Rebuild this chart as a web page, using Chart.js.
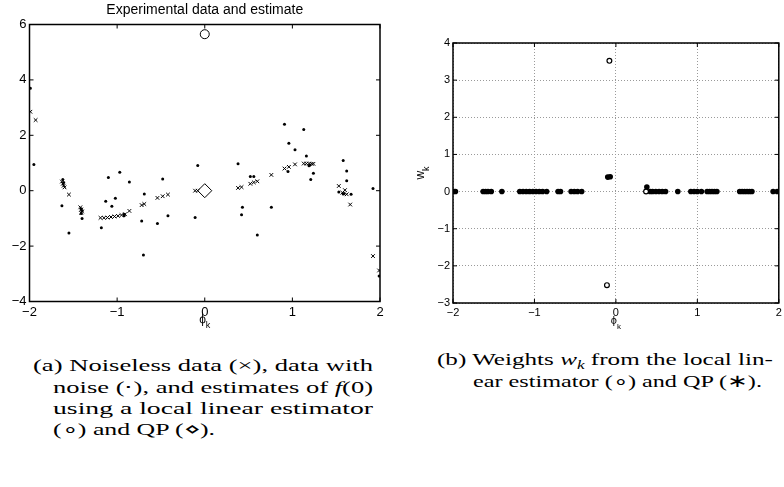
<!DOCTYPE html>
<html>
<head>
<meta charset="utf-8">
<script src="https://cdn.jsdelivr.net/npm/chart.js@4.4.0/dist/chart.umd.min.js"></script>
<style>
  body { margin: 0; background: #fff; width: 784px; height: 487px; position: relative; overflow: hidden; }
  canvas { position: absolute; top: 0; }
  #left { left: 0; }
  #right { left: 392px; }
  .ln { position: absolute; white-space: nowrap; font-family: "Liberation Serif", serif; font-size: 17.5px;
        line-height: 20px; height: 20px; color: #000; transform-origin: 0 0; }
  .sb { position: relative; top: 4px; font-size: 12px; font-style: italic; }
</style>
</head>
<body>
<canvas id="left" width="392" height="330"></canvas>
<canvas id="right" width="392" height="330"></canvas>

<div class="ln" data-w="340" style="left:33px; top:355px">(a) Noiseless data (×), data with</div>
<div class="ln" data-w="320" style="left:53px; top:377px">noise (⋅), and estimates of <i>f</i>(0)</div>
<div class="ln" data-w="320" style="left:53px; top:398px">using a local linear estimator</div>
<div class="ln" data-w="162" style="left:53px; top:419px">(∘) and QP (⋄).</div>
<div class="ln" data-w="336" style="left:437px; top:349px; outline: 0">(b) Weights <i>w</i><span class="sb">k</span> from the local lin-</div>
<div class="ln" data-w="289" style="left:473px; top:371px">ear estimator (∘) and QP (∗).</div>

<script>
// (a) noiseless data (x markers)
const phiClean = [-1.99, -1.93, -1.63, -1.62, -1.61, -1.60, -1.55, -1.42, -1.41, -1.40, -1.41,
  -1.19, -1.15, -1.11, -1.07, -1.03, -0.99, -0.95, -0.91, -0.86, -0.72, -0.69,
  -0.54, -0.48, -0.42, -0.11, -0.08, 0.38, 0.42, 0.52, 0.56, 0.60, 0.76,
  0.91, 0.96, 1.03, 1.13, 1.16, 1.19, 1.22, 1.24, 1.53, 1.57, 1.60, 1.62, 1.66, 1.92, 1.99];
const yClean = [2.85, 2.55, 0.33, 0.25, 0.18, 0.12, -0.14, -0.60, -0.68, -0.75, -0.80,
  -0.98, -0.98, -0.97, -0.95, -0.93, -0.91, -0.88, -0.85, -0.73, -0.52, -0.48,
  -0.26, -0.20, -0.14, 0.00, 0.00, 0.10, 0.13, 0.25, 0.30, 0.34, 0.57,
  0.80, 0.86, 0.95, 0.98, 0.98, 0.98, 0.97, 0.97, 0.17, -0.07, 0.02, -0.13, -0.50, -2.36, -2.88];

// (a) data with noise (dots)
const phiNoisy = [-1.99, -1.95, -1.62, -1.61, -1.63, -1.55, -1.41, -1.40, -1.41, -1.40,
  -1.10, -0.97, -0.86, -1.13, -1.02, -1.06, -1.18, -0.92, -0.92,
  -0.69, -0.72, -0.70, -0.48, -0.42, -0.54, -0.08, -0.11,
  0.38, 0.43, 0.42, 0.52, 0.56, 0.76, 0.60,
  0.91, 1.13, 0.96, 1.03, 1.16, 0.95, 1.19, 1.20, 1.24, 1.21,
  1.58, 1.62, 1.62, 1.53, 1.58, 1.67, 1.59, 1.92, 1.99];
const yNoisy = [3.70, 0.95, 0.40, 0.30, -0.54, -1.53, -0.65, -0.72, -0.82, -1.00,
  0.48, 0.67, 0.31, -0.38, -0.27, -0.56, -1.34, -0.85, -0.90,
  -0.12, -1.09, -2.32, 0.42, -0.90, -1.18, 0.91, -0.97,
  0.97, -0.60, -0.87, 0.51, 0.51, -0.60, -1.60,
  2.40, 2.21, 1.71, 1.48, 1.25, 0.69, 0.90, 0.93, 0.63, 0.40,
  1.09, 0.71, 0.36, -0.05, -0.12, -0.13, -0.10, 0.08, -3.08];

// (a) estimates of f(0)
const phiEstLL = [0];
const yEstLL = [5.65];
const phiEstQP = [0];
const yEstQP = [0];

// (b) weights from QP (filled) and local linear estimator (open)
const phiWQP = [-1.99, -1.97, -1.63, -1.60, -1.57, -1.53, -1.40, -1.18, -1.14, -1.10, -1.06, -1.02,
  -0.98, -0.94, -0.90, -0.85, -0.71, -0.68, -0.55, -0.51, -0.47, -0.42, -0.10, -0.07,
  0.38, 0.42, 0.45, 0.49, 0.53, 0.57, 0.61, 0.76, 0.92, 0.96, 1.00, 1.05,
  1.12, 1.15, 1.18, 1.21, 1.24, 1.52, 1.55, 1.58, 1.61, 1.64, 1.67, 1.93, 1.98];
const wQP = [0, 0, 0, 0, 0, 0, 0, 0, 0, 0, 0, 0,
  0, 0, 0, 0, 0, 0, 0, 0, 0, 0, 0.39, 0.40,
  0.12, 0, 0, 0, 0, 0, 0, 0, 0, 0, 0, 0,
  0, 0, 0, 0, 0, 0, 0, 0, 0, 0, 0, 0, 0];
const phiWLL = [-0.08, -0.11, 0.37];
const wLL = [3.52, -2.52, 0.0];

const titleA = 'Experimental data and estimate';
const xTicksA = { min: -2, max: 2, step: 1 };
const yTicksA = { min: -4, max: 6, step: 2 };
const xTicksB = { min: -2, max: 2, step: 1 };
const yTicksB = { min: -3, max: 4, step: 1 };

const pts = (xs, ys) => xs.map((x, i) => ({ x: x, y: ys[i] }));
const minus = v => String(v).replace('-', '\u2212');

// caption lines: the reference text is wide, stretch each line to its measured width
document.querySelectorAll('.ln').forEach(el => {
  const w = el.getBoundingClientRect().width;
  el.style.transform = 'scaleX(' + (Number(el.dataset.w) / w) + ')';
});

// box round the plot, inward ticks on all sides, title and axis labels with subscript
const framePlugin = {
  id: 'frame',
  afterDraw(chart, args, opts) {
    const { ctx, chartArea: a, scales } = chart;
    const L = 4;
    ctx.save();
    ctx.strokeStyle = '#000';
    ctx.lineWidth = 1.5;
    ctx.strokeRect(a.left, a.top, a.right - a.left, a.bottom - a.top);
    ctx.lineWidth = 1;
    ctx.beginPath();
    scales.x.ticks.forEach(t => {
      const p = scales.x.getPixelForValue(t.value);
      ctx.moveTo(p, a.bottom); ctx.lineTo(p, a.bottom - L);
      ctx.moveTo(p, a.top); ctx.lineTo(p, a.top + L);
    });
    scales.y.ticks.forEach(t => {
      const p = scales.y.getPixelForValue(t.value);
      ctx.moveTo(a.left, p); ctx.lineTo(a.left + L, p);
      ctx.moveTo(a.right, p); ctx.lineTo(a.right - L, p);
    });
    ctx.stroke();

    ctx.fillStyle = '#000';
    const cx = (a.left + a.right) / 2;
    if (opts.title) {
      ctx.font = '14px "Liberation Sans", sans-serif';
      ctx.textAlign = 'center';
      ctx.textBaseline = 'alphabetic';
      ctx.fillText(opts.title, cx, 14);
    }
    const drawSub = (main, sub, x, base, size) => {
      ctx.font = size + 'px "Liberation Sans", "DejaVu Sans", sans-serif';
      const w1 = ctx.measureText(main).width;
      ctx.font = (size - 3) + 'px "Liberation Sans", sans-serif';
      const w2 = ctx.measureText(sub).width;
      const x0 = x - (w1 + w2) / 2;
      ctx.textAlign = 'left';
      ctx.textBaseline = 'alphabetic';
      ctx.font = size + 'px "Liberation Sans", "DejaVu Sans", sans-serif';
      ctx.fillText(main, x0, base);
      ctx.font = (size - 3) + 'px "Liberation Sans", sans-serif';
      ctx.fillText(sub, x0 + w1, base + 5);
    };
    drawSub('\u03D5', 'k', cx, opts.xLabelY, opts.labelSize);
    if (opts.yLabelX) {
      ctx.save();
      ctx.translate(opts.yLabelX, (a.top + a.bottom) / 2);
      ctx.rotate(-Math.PI / 2);
      drawSub('w', 'k', 0, 0, opts.labelSize + 1);
      ctx.restore();
    }
    ctx.restore();
  }
};

function axis(t, font, fixW, fixH, gridOn) {
  return {
    type: 'linear',
    min: t.min, max: t.max,
    ticks: { stepSize: t.step, color: '#000', padding: 3, font: { family: 'Liberation Sans', size: font }, callback: minus },
    grid: { display: gridOn, drawTicks: false, color: '#9a9a9a', lineWidth: 1 },
    border: { display: false, dash: [1, 2] },
    afterFit(s) {
      if (fixW) s.width = fixW;
      if (fixH) { s.height = fixH; s.paddingRight = 0; s.paddingLeft = 0; }
    }
  };
}

new Chart(document.getElementById('left'), {
  type: 'scatter',
  data: {
    datasets: [
      { data: pts(phiClean, yClean), pointStyle: 'crossRot', pointRadius: 2.6, pointBorderWidth: 1, borderColor: '#000', backgroundColor: '#000' },
      { data: pts(phiNoisy, yNoisy), pointStyle: 'circle', pointRadius: 1.5, pointBorderWidth: 0, borderColor: '#000', backgroundColor: '#000' },
      { data: pts(phiEstLL, yEstLL), pointStyle: 'circle', pointRadius: 4.5, pointBorderWidth: 1, borderColor: '#000', backgroundColor: '#fff' },
      { data: pts(phiEstQP, yEstQP), pointStyle: 'rectRot', pointRadius: 7, pointBorderWidth: 1, borderColor: '#000', backgroundColor: 'rgba(0,0,0,0)' }
    ]
  },
  options: {
    responsive: false,
    animation: false,
    events: [],
    layout: { padding: { top: 24.5, left: 0, right: 12, bottom: 0 } },
    scales: {
      x: axis(xTicksA, 13, null, 28.5, false),
      y: axis(yTicksA, 13, 29.5, null, false)
    },
    plugins: {
      legend: { display: false },
      tooltip: { enabled: false },
      frame: { title: titleA, xLabelY: 323, labelSize: 12 }
    }
  },
  plugins: [framePlugin]
});

new Chart(document.getElementById('right'), {
  type: 'scatter',
  data: {
    datasets: [
      { data: pts(phiWLL, wLL), pointStyle: 'circle', pointRadius: 2.4, pointBorderWidth: 1.2, borderColor: '#000', backgroundColor: '#fff' },
      { data: pts(phiWQP, wQP), pointStyle: 'circle', pointRadius: 2.8, pointBorderWidth: 0, borderColor: '#000', backgroundColor: '#000' }
    ]
  },
  options: {
    responsive: false,
    animation: false,
    events: [],
    layout: { padding: { top: 43, left: 0, right: 1, bottom: 0 } },
    scales: {
      x: axis(xTicksB, 11, null, 27, true),
      y: axis(yTicksB, 11, 61, null, true)
    },
    plugins: {
      legend: { display: false },
      tooltip: { enabled: false },
      frame: { xLabelY: 324, labelSize: 11, yLabelX: 32 }
    }
  },
  plugins: [framePlugin]
});
</script>
</body>
</html>
